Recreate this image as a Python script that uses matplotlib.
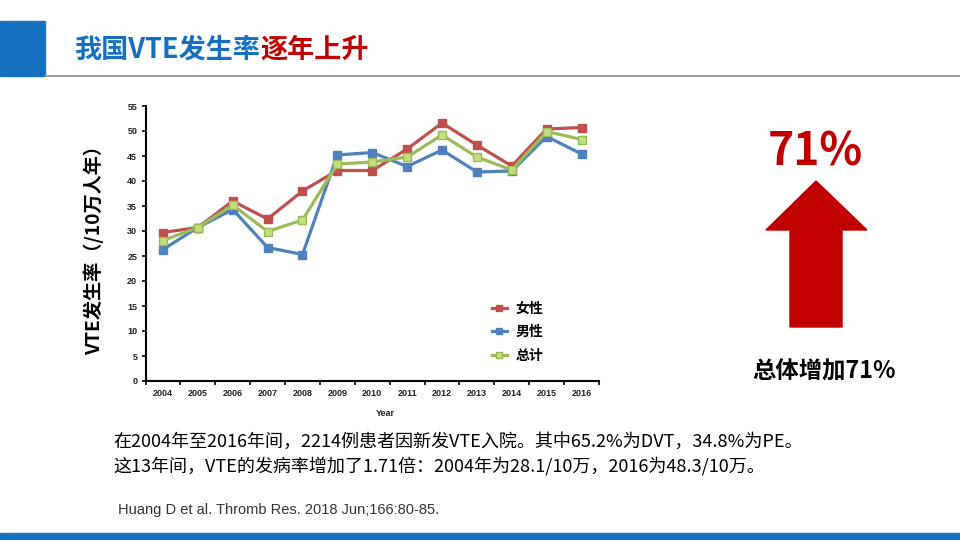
import matplotlib.pyplot as plt
import numpy as np
from matplotlib.patches import Rectangle, Polygon
from matplotlib.lines import Line2D

plt.rcParams['font.family'] = ['Noto Sans CJK SC', 'DejaVu Sans']

# data
years = ['2004', '2005', '2006', '2007', '2008', '2009', '2010',
         '2011', '2012', '2013', '2014', '2015', '2016']
female = [29.7, 30.7, 36.0, 32.4, 38.0, 42.1, 42.1, 46.4, 51.6, 47.2, 43.0, 50.4, 50.7]
male = [26.3, 30.7, 34.3, 26.7, 25.3, 45.2, 45.7, 42.9, 46.2, 41.8, 42.0, 48.9, 45.4]
total = [28.1, 30.7, 35.2, 29.9, 32.2, 43.4, 43.8, 44.8, 49.2, 44.8, 42.2, 49.9, 48.3]
series_names = ['女性', '男性', '总计']

W, H = 960, 540
fig = plt.figure(figsize=(9.6, 5.4), dpi=100)


def fx(x):
    return x / W


def fy(y):
    return 1 - y / H


blue = '#1570C0'
dark_red = '#C00000'

# header block, rule and footer bar
fig.patches.append(Rectangle((0, fy(76)), fx(45), 55 / H, transform=fig.transFigure,
                             color=blue, zorder=0))
fig.add_artist(Line2D([fx(45), 1], [fy(75.5), fy(75.5)], transform=fig.transFigure,
                      color='#8C8C8C', lw=1.2))
fig.patches.append(Rectangle((0, 0), 1, 7 / H, transform=fig.transFigure,
                             color=blue, zorder=0))

t1 = fig.text(fx(74), fy(50), '我国VTE发生率', color=blue, fontsize=19.5,
              fontweight='bold', va='center', ha='left')
fig.canvas.draw()
bb = t1.get_window_extent()
fig.text(bb.x1 / W, fy(50), '逐年上升', color=dark_red, fontsize=19.5,
         fontweight='bold', va='center', ha='left')

# main chart
ax = fig.add_axes([fx(145.5), fy(381), (599 - 145.5) / W, 275 / H])
x = np.arange(len(years))
colors = ['#C0504D', '#4F81BD', '#9BBB59']
faces = ['#C0504D', '#4F81BD', '#C3DE7E']
for vals, name, c, fc in zip([female, male, total], series_names, colors, faces):
    ax.plot(x, vals, color=c, lw=2.3, marker='s', markersize=5.5,
            markerfacecolor=fc, markeredgecolor=c, label=name)

ax.set_xlim(-0.5, len(years) - 0.5)
ax.set_ylim(0, 55)
ax.set_yticks(np.arange(0, 56, 5))
ax.set_xticks(np.arange(-0.5, len(years), 1))
ax.set_xticklabels([])
ax.set_xticks(x, minor=True)
ax.set_xticklabels(years, minor=True)
ax.tick_params(axis='x', which='major', direction='out', length=3, width=1.2)
ax.tick_params(axis='x', which='minor', length=0, pad=6, labelsize=6.5)
ax.tick_params(axis='y', direction='out', length=3, width=1.2, pad=3, labelsize=6.5)
for lab in ax.get_xticklabels(minor=True) + ax.get_yticklabels():
    lab.set_fontweight('bold')
    lab.set_family(['Liberation Sans', 'DejaVu Sans'])
    lab.set_color('#222222')
for s in ['top', 'right']:
    ax.spines[s].set_visible(False)
for s in ['left', 'bottom']:
    ax.spines[s].set_linewidth(1.5)
ax.patch.set_alpha(0)

fig.text(fx(385), fy(414), 'Year', fontsize=6.5, fontweight='bold', ha='center',
         va='center', family=['Liberation Sans', 'DejaVu Sans'], color='#222222')
fig.text(fx(94), fy(246), 'VTE发生率（/10万人年）', rotation=90, fontsize=13.8,
         fontweight='bold', ha='center', va='center')

leg = ax.legend(loc='upper left', bbox_to_anchor=(fx(479), fy(289)),
                bbox_transform=fig.transFigure, frameon=False, handlelength=1.1,
                handletextpad=0.65, labelspacing=0.7, markerscale=0.85,
                prop={'size': 10, 'weight': 'bold'})

# right side annotation
fig.text(fx(815), fy(153), '71%', color=dark_red, fontsize=32, fontweight='bold',
         ha='center', va='center')
arrow_pts = [(816, 181), (867, 230), (842, 230), (842, 327), (790, 327),
             (790, 230), (766, 230)]
fig.patches.append(Polygon([(fx(px), fy(py)) for px, py in arrow_pts], closed=True,
                           transform=fig.transFigure, color=dark_red))
fig.text(fx(824), fy(372), '总体增加71%', fontsize=16.8, fontweight='bold',
         ha='center', va='center', color='black')

# notes
fig.text(fx(113), fy(442), '在2004年至2016年间，2214例患者因新发VTE入院。其中65.2%为DVT，34.8%为PE。',
         fontsize=13, ha='left', va='center', color='black')
fig.text(fx(113), fy(466), '这13年间，VTE的发病率增加了1.71倍：2004年为28.1/10万，2016为48.3/10万。',
         fontsize=13, ha='left', va='center', color='black')
fig.text(fx(118), fy(510), 'Huang D et al. Thromb Res. 2018 Jun;166:80-85.',
         fontsize=10.5, ha='left', va='center', color='#333333',
         family=['Liberation Sans', 'DejaVu Sans'])

fig.savefig('out.png', dpi=100)
